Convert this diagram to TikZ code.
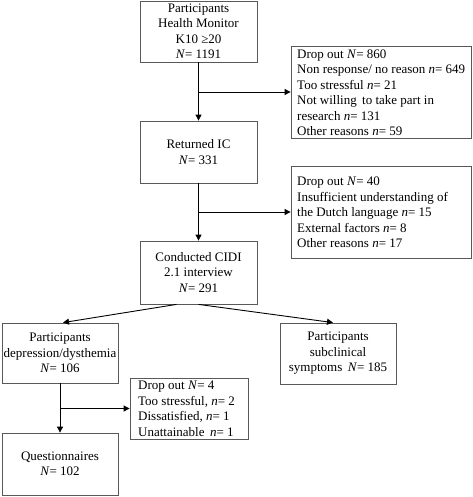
\documentclass[tikz,border=0pt]{standalone}
\usepackage{fontspec}
\setmainfont{Liberation Serif}
\usetikzlibrary{arrows.meta}
\begin{document}
\begin{tikzpicture}[x=1pt,y=-1pt,
  box/.style={draw=black!65,line width=0.8pt,inner sep=0pt,align=center,font=\fontsize{13}{15.5}\selectfont},
  dbox/.style={draw=black!65,line width=0.8pt,inner sep=0pt,font=\fontsize{13}{15.5}\selectfont},
  dtext/.style={anchor=west,align=left,font=\fontsize{13}{15.5}\selectfont,inner sep=0pt},
  conn/.style={draw=black,line width=0.9pt},
  arr/.style={conn,-{Triangle[length=6pt,width=6pt]}}]
\useasboundingbox (0,0) rectangle (472,497);
\node[box,minimum width=117pt,minimum height=61pt] (b1) at (198.5,31.5) {Participants\\Health Monitor\\K10 ≥20\\\textit{N}= 1191};
\node[dbox,minimum width=180pt,minimum height=92pt] (d1) at (381,92) {};
\node[dtext] (d1t) at (297,92.5) {Drop out \textit{N}= 860\\Non response/ no reason \textit{n}= 649\\Too stressful \textit{n}= 21\\Not willing\, to take part in\\research \textit{n}= 131\\Other reasons \textit{n}= 59};
\node[box,minimum width=117pt,minimum height=62pt] (b2) at (198.5,152) {Returned IC\\\textit{N}= 331};
\node[dbox,minimum width=180pt,minimum height=92pt] (d2) at (381,212) {};
\node[dtext] (d2t) at (297,212.5) {Drop out \textit{N}= 40\\Insufficient understanding of\\the Dutch language \textit{n}= 15\\External factors \textit{n}= 8\\Other reasons \textit{n}= 17};
\node[box,minimum width=117pt,minimum height=63pt] (b3) at (198.5,272.5) {Conducted CIDI\\2.1 interview\\\textit{N}= 291};
\node[box,minimum width=116pt,minimum height=60pt] (b4) at (60,353) {Participants\\depression/dysthemia\\\textit{N}= 106};
\node[box,minimum width=116pt,minimum height=61pt] (b5) at (338,353.5) {Participants\\subclinical\\symptoms\, \textit{N}= 185};
\node[dbox,minimum width=118pt,minimum height=61pt] (d3) at (189,408.5) {};
\node[dtext] (d3t) at (138,409) {Drop out \textit{N}= 4\\Too stressful, \textit{n}= 2\\Dissatisfied, \textit{n}= 1\\Unattainable\, \textit{n}= 1};
\node[box,minimum width=116pt,minimum height=62pt] (b6) at (60,464) {Questionnaires\\\textit{N}= 102};
\coordinate (j1) at (b1.south |- d1.west);
\coordinate (j2) at (b2.south |- d2.west);
\coordinate (j3) at (b4.south |- d3.west);
\draw[arr] (b1.south) -- (b2.north);
\draw[arr] (j1) -- (d1.west);
\draw[arr] (b2.south) -- (b3.north);
\draw[arr] (j2) -- (d2.west);
\draw[arr] ([xshift=-22pt]b3.south) -- ([xshift=3pt]b4.north);
\draw[arr] (b3.south) -- ([xshift=-5pt]b5.north);
\draw[arr] (b4.south) -- (b6.north);
\draw[arr] (j3) -- (d3.west);
\end{tikzpicture}
\end{document}
